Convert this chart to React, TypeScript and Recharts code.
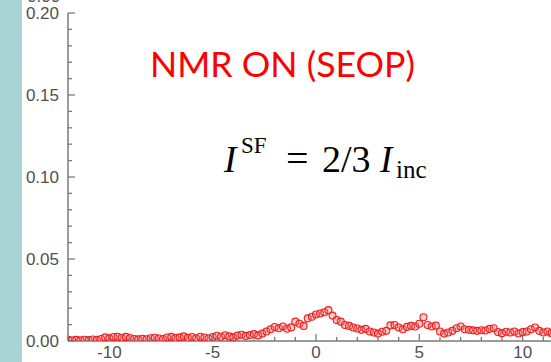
import React from 'react';
import { ScatterChart, Scatter, XAxis, YAxis, Customized } from 'recharts';

const xValues: number[] = [
  -12.0, -11.8, -11.6, -11.4, -11.2, -11.0, -10.8, -10.6, -10.4, -10.2,
  -10.0, -9.8, -9.6, -9.4, -9.2, -9.0, -8.8, -8.6, -8.4, -8.2,
  -8.0, -7.8, -7.6, -7.4, -7.2, -7.0, -6.8, -6.6, -6.4, -6.2,
  -6.0, -5.8, -5.6, -5.4, -5.2, -5.0, -4.8, -4.6, -4.4, -4.2,
  -4.0, -3.8, -3.6, -3.4, -3.2, -3.0, -2.8, -2.6, -2.4, -2.2,
  -2.0, -1.8, -1.6, -1.4, -1.2, -1.0, -0.8, -0.6, -0.4, -0.2,
  0.0, 0.2, 0.4, 0.6, 0.8, 1.0, 1.2, 1.4, 1.6, 1.8,
  2.0, 2.2, 2.4, 2.6, 2.8, 3.0, 3.2, 3.4, 3.6, 3.8,
  4.0, 4.2, 4.4, 4.6, 4.8, 5.0, 5.2, 5.4, 5.6, 5.8,
  6.0, 6.2, 6.4, 6.6, 6.8, 7.0, 7.2, 7.4, 7.6, 7.8,
  8.0, 8.2, 8.4, 8.6, 8.8, 9.0, 9.2, 9.4, 9.6, 9.8,
  10.0, 10.2, 10.4, 10.6, 10.8, 11.0, 11.2, 11.4, 11.6, 11.8,
];

const intensity: number[] = [
  0.0008, 0.0005, 0.0007, 0.0004, 0.0008, 0.0006, 0.0009, 0.0007, 0.0012, 0.0022,
  0.0016, 0.0024, 0.0026, 0.002, 0.0025, 0.0018, 0.0012, 0.001, 0.0014, 0.0011,
  0.0017, 0.002, 0.0015, 0.0012, 0.0021, 0.0025, 0.0018, 0.0022, 0.0028, 0.0019,
  0.0024, 0.0017, 0.0026, 0.0021, 0.0015, 0.0024, 0.0032, 0.0026, 0.0035, 0.0028,
  0.0022, 0.0033, 0.0038, 0.0031, 0.0036, 0.0042, 0.0034, 0.0045, 0.0058, 0.0072,
  0.0085, 0.0078, 0.0088, 0.0075, 0.0083, 0.0118, 0.0105, 0.0092, 0.0138, 0.0148,
  0.0162, 0.0168, 0.0175, 0.0188, 0.0155, 0.0128, 0.0118, 0.0098, 0.0092, 0.0082,
  0.0076, 0.0068, 0.0074, 0.0058, 0.0052, 0.0045, 0.0056, 0.0062, 0.0095, 0.0098,
  0.0082, 0.0072, 0.0086, 0.0092, 0.0088, 0.0105, 0.0145, 0.0098, 0.0088, 0.0094,
  0.0058, 0.0045, 0.0052, 0.0062, 0.0078, 0.0088, 0.0072, 0.0068, 0.0065, 0.0062,
  0.0066, 0.0064, 0.0074, 0.0078, 0.0055, 0.0048, 0.0056, 0.0052, 0.0058, 0.0046,
  0.0054, 0.0058, 0.0072, 0.0082, 0.0062, 0.0052, 0.0058, 0.0048, 0.0055, 0.005,
];

const xMajorTicks: number[] = [-10, -5, 0, 5, 10];
const xAllTicks: number[] = [-12, -11, -10, -9, -8, -7, -6, -5, -4, -3, -2, -1, 0, 1, 2, 3, 4, 5, 6, 7, 8, 9, 10, 11, 12];
const yAllTicks: number[] = [0, 0.01, 0.02, 0.03, 0.04, 0.05, 0.06, 0.07, 0.08, 0.09, 0.1, 0.11, 0.12, 0.13, 0.14, 0.15, 0.16, 0.17, 0.18, 0.19, 0.2];
const yMajorLabels: string[] = ['0.00', '0.05', '0.10', '0.15', '0.20'];

const data = xValues.map((x, i) => ({ x, y: intensity[i] }));

const AXIS = '#7a7a7a';
const LABEL = '#505050';
const FONT = '"Liberation Sans", Arial, sans-serif';

const isMajorX = (v: number) => xMajorTicks.includes(v);
const isMajorY = (v: number) => Math.round(v * 100) % 5 === 0;

const BottomTick = (p: any) => {
  const v = p.payload.value;
  const major = isMajorX(v);
  return (
    <g>
      <line x1={p.x} x2={p.x} y1={p.y} y2={p.y - (major ? 7 : 4)} stroke={AXIS} strokeWidth={1.3} />
      {major && (
        <text x={p.x} y={p.y + 17} textAnchor="middle" fill={LABEL} fontSize={17} fontFamily={FONT}>
          {String(v)}
        </text>
      )}
    </g>
  );
};

const TopTick = (p: any) => {
  const v = p.payload.value;
  const major = isMajorX(v);
  return <line x1={p.x} x2={p.x} y1={p.y} y2={p.y + (major ? 7 : 4)} stroke={AXIS} strokeWidth={1.3} />;
};

const LeftTick = (p: any) => {
  const v = p.payload.value;
  const major = isMajorY(v);
  const idx = Math.round(v * 100) / 5;
  return (
    <g>
      <line x1={p.x} x2={p.x + (major ? 7 : 4)} y1={p.y} y2={p.y} stroke={AXIS} strokeWidth={1.3} />
      {major && (
        <text x={p.x - 9} y={p.y + 6} textAnchor="end" fill={LABEL} fontSize={17} fontFamily={FONT}>
          {yMajorLabels[idx]}
        </text>
      )}
    </g>
  );
};

const Marker = (p: any) => (
  <circle cx={p.cx} cy={p.cy} r={3.5} fill="rgba(255,110,110,0.35)" stroke="#ee1d1d" strokeWidth={1.1} />
);

const Annotations = () => (
  <g>
    <text x={27} y={2} fill={LABEL} fontSize={17} fontFamily={FONT}>0.00</text>
    <text
      x={150}
      y={77}
      fill="#ff0000"
      fontSize={35}
      fontFamily='Lato, "Open Sans", sans-serif'
      textLength={265}
      lengthAdjust="spacingAndGlyphs"
    >
      NMR ON (SEOP)
    </text>
    <g fontFamily='"Liberation Serif", "Times New Roman", serif' fill="#000">
      <text x={224} y={172} fontSize={37} fontStyle="italic">I</text>
      <text x={241} y={153} fontSize={23}>SF</text>
      <text x={286} y={172} fontSize={40}>=</text>
      <text x={322} y={172} fontSize={38}>2/3</text>
      <text x={380} y={172} fontSize={37} fontStyle="italic">I</text>
      <text x={396} y={178} fontSize={25}>inc</text>
    </g>
  </g>
);

export default function App() {
  return (
    <div style={{ position: 'fixed', left: 0, top: 0, width: 551, height: 362, overflow: 'hidden', background: '#fff' }}>
      <div style={{ position: 'absolute', left: 0, top: 0, width: 22, height: 362, background: '#a8d5d5' }} />
      <div style={{ position: 'absolute', left: 0, top: 0 }}>
        <ScatterChart width={570} height={362} margin={{ top: 13, right: 6, bottom: 0, left: 0 }}>
          <XAxis
            xAxisId="top"
            orientation="top"
            type="number"
            dataKey="x"
            domain={[-12, 12]}
            ticks={xAllTicks}
            interval={0}
            height={0}
            tickSize={0}
            tickMargin={0}
            tickLine={false}
            axisLine={{ stroke: AXIS, strokeWidth: 1.5 }}
            tick={(p: any) => <TopTick {...p} />}
            allowDataOverflow
          />
          <XAxis
            xAxisId="bottom"
            orientation="bottom"
            type="number"
            dataKey="x"
            domain={[-12, 12]}
            ticks={xAllTicks}
            interval={0}
            height={21}
            tickSize={0}
            tickMargin={0}
            tickLine={false}
            axisLine={{ stroke: AXIS, strokeWidth: 1.5 }}
            tick={(p: any) => <BottomTick {...p} />}
            allowDataOverflow
          />
          <YAxis
            type="number"
            dataKey="y"
            domain={[0, 0.2]}
            ticks={yAllTicks}
            interval={0}
            width={68}
            tickSize={0}
            tickMargin={0}
            tickLine={false}
            axisLine={{ stroke: AXIS, strokeWidth: 1.5 }}
            tick={(p: any) => <LeftTick {...p} />}
            allowDataOverflow
          />
          <Scatter data={data} xAxisId="bottom" shape={(p: any) => <Marker {...p} />} isAnimationActive={false} />
          <Customized component={Annotations} />
        </ScatterChart>
      </div>
    </div>
  );
}
